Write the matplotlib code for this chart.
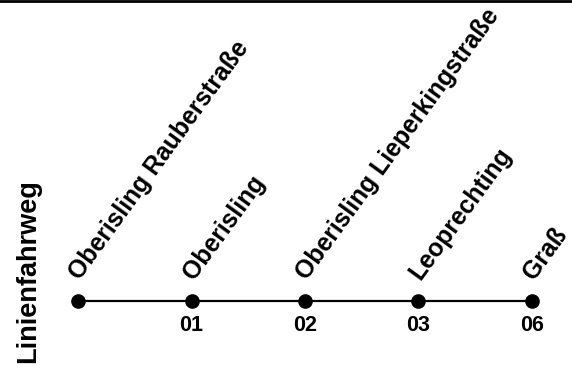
import matplotlib
matplotlib.use("Agg")
import matplotlib.pyplot as plt
from matplotlib.lines import Line2D

stations = ["Oberisling Rauberstraße", "Oberisling", "Oberisling Lieperkingstraße", "Leoprechting", "Graß"]
codes = ["", "01", "02", "03", "06"]
ylabel = "Linienfahrweg"

plt.rcParams['font.family'] = ['Liberation Sans', 'DejaVu Sans']
plt.rcParams['font.weight'] = 'bold'

W, H = 572, 369
fig = plt.figure(figsize=(W / 100, H / 100), dpi=100)
ax = fig.add_axes([0, 0, 1, 1])
ax.set_axis_off()

x0_px, step_px, y_px = 78, 113.5, 301
xs = list(range(len(stations)))
ys = [0] * len(stations)
ax.set_xlim(-x0_px / step_px, (W - x0_px) / step_px)
yfrac = (H - y_px) / H
ax.set_ylim(-yfrac, 1 - yfrac)

ax.plot(xs, ys, color='black', lw=1.6, marker='o', ms=9.5, zorder=3)

for x, name, code in zip(xs, stations, codes):
    ax.annotate(name, (x, 0), xytext=(2, 20), textcoords='offset pixels',
                rotation=54, rotation_mode='anchor', ha='left', va='baseline',
                fontsize=17.8, fontweight='bold', color='black')
    if code:
        ax.annotate(code, (x, 0), xytext=(0, -14), textcoords='offset pixels',
                    ha='center', va='top', fontsize=15.5, fontweight='bold', color='black')

fig.text(28 / W, 1 - 271 / H, ylabel, rotation=90, ha='center', va='center',
         fontsize=19.5, fontweight='bold', color='black')

fig.add_artist(Line2D([0, 1], [1 - 1 / H, 1 - 1 / H], transform=fig.transFigure,
                      color='black', lw=2))

fig.savefig("out.png", dpi=100)
